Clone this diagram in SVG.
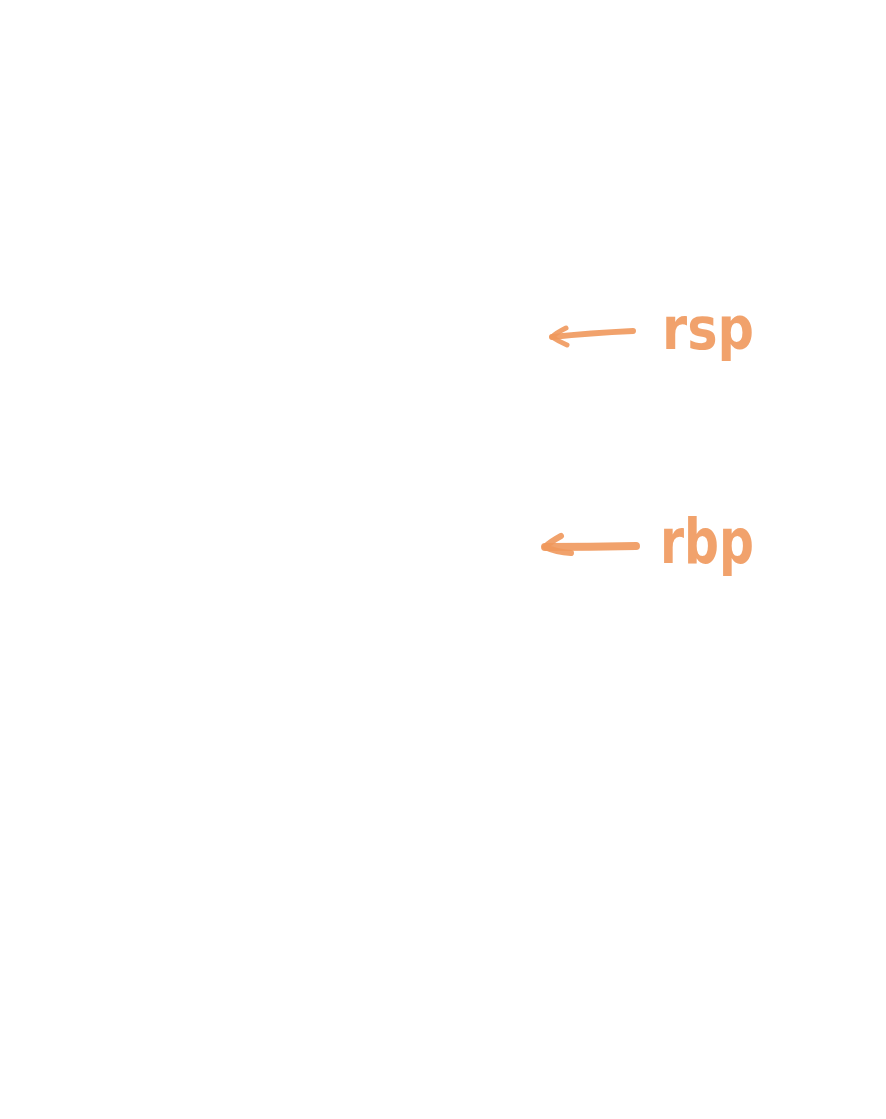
<svg xmlns="http://www.w3.org/2000/svg" width="886" height="1119" viewBox="0 0 886 1119">
<style>
.ink{fill:none;stroke:#ef985c;stroke-opacity:0.9;stroke-linecap:round;stroke-linejoin:round}
.lbl{font-family:"DejaVu Sans",sans-serif;font-weight:bold;fill:#ef985c;fill-opacity:0.9}
</style>
<rect width="886" height="1119" fill="#ffffff"/>
<g id="connectors">
<g id="arrow-rsp">
<path class="ink" stroke-width="6" d="M633,331 Q590,333 552,337"/>
<path class="ink" stroke-width="5" d="M566,328 Q556,333 552,337 Q558,341 567,345"/>
</g>
<g id="arrow-rbp">
<path class="ink" stroke-width="8" d="M636,546 Q590,547 545,547"/>
<path class="ink" stroke-width="6" d="M561,536 Q550,542 545,547 Q556,552 571,553"/>
</g>
</g>
<g id="node-rsp">
<text class="lbl" x="662" y="349" font-size="58" textLength="92" lengthAdjust="spacingAndGlyphs">rsp</text>
</g>
<g id="node-rbp">
<text class="lbl" x="660" y="563" font-size="62" textLength="94" lengthAdjust="spacingAndGlyphs">rbp</text>
</g>
</svg>
